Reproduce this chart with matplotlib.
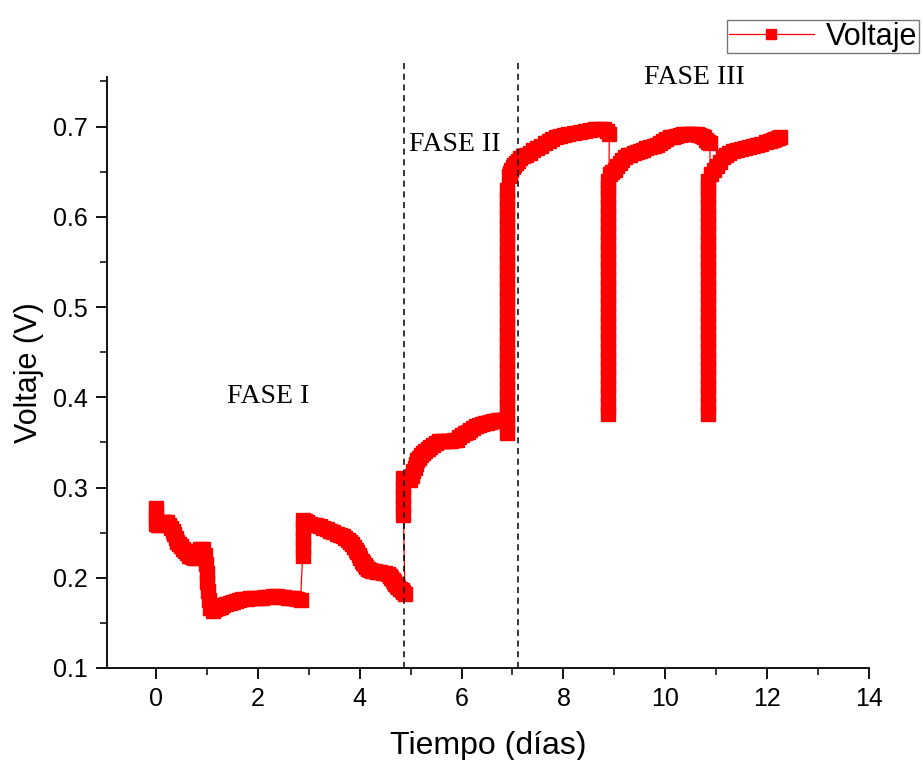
import matplotlib
matplotlib.use("Agg")
import matplotlib.pyplot as plt
from matplotlib.ticker import MultipleLocator

plt.rcParams["font.family"] = ["Liberation Sans", "DejaVu Sans"]

# Phase I readings
dias_1 = [0.00, 0.00, 0.00, 0.04, 0.08, 0.14, 0.18, 0.22, 0.26, 0.30, 0.33, 0.36, 0.39, 0.42,
          0.46, 0.50, 0.54, 0.58, 0.62, 0.66, 0.70, 0.74, 0.80, 0.86, 0.92, 0.96, 0.98, 1.00,
          1.01, 1.02, 1.04, 1.07, 1.12, 1.17, 1.22, 1.27, 1.32, 1.38, 1.45, 1.52, 1.58, 1.64,
          1.70, 1.78, 1.85, 1.92, 2.00, 2.08, 2.15, 2.22, 2.30, 2.38, 2.45, 2.52, 2.60, 2.66,
          2.72, 2.78, 2.84,
          2.88, 2.88, 2.88, 2.88, 2.88, 2.92, 2.96, 3.02, 3.08, 3.15, 3.22, 3.29, 3.36, 3.42,
          3.48, 3.55, 3.61, 3.67, 3.72, 3.77, 3.81, 3.85, 3.88, 3.92, 3.95, 3.98, 4.01, 4.04,
          4.06, 4.10, 4.13, 4.17, 4.20, 4.25, 4.30, 4.35, 4.40, 4.45, 4.50, 4.55, 4.59, 4.62,
          4.65, 4.68, 4.70, 4.73, 4.76, 4.80, 4.83, 4.86, 4.89]
volt_1 = [0.277, 0.268, 0.260, 0.259, 0.258, 0.262, 0.262, 0.262, 0.259, 0.255, 0.252, 0.248,
          0.244, 0.240, 0.237, 0.235, 0.232, 0.230, 0.227, 0.224, 0.223, 0.222, 0.222, 0.232,
          0.232, 0.225, 0.215, 0.205, 0.195, 0.185, 0.175, 0.167, 0.163, 0.165, 0.167, 0.168,
          0.170, 0.171, 0.172, 0.173, 0.174, 0.175, 0.176, 0.176, 0.177, 0.177, 0.178, 0.178,
          0.179, 0.179, 0.180, 0.180, 0.179, 0.179, 0.178, 0.178, 0.177, 0.176, 0.175,
          0.224, 0.234, 0.244, 0.254, 0.264, 0.263, 0.262, 0.260, 0.259, 0.258, 0.257, 0.255,
          0.254, 0.252, 0.251, 0.249, 0.247, 0.246, 0.244, 0.242, 0.240, 0.237, 0.234, 0.231,
          0.228, 0.225, 0.222, 0.219, 0.216, 0.214, 0.212, 0.210, 0.209, 0.208, 0.207, 0.206,
          0.206, 0.205, 0.205, 0.204, 0.202, 0.200, 0.197, 0.195, 0.193, 0.191, 0.190, 0.188,
          0.186, 0.184, 0.182]

# Phase II readings
dias_2 = [4.86, 4.86, 4.86, 4.86, 4.86, 4.92, 4.98, 5.02, 5.05, 5.08, 5.10, 5.13, 5.16, 5.20,
          5.24, 5.29, 5.34, 5.39, 5.44, 5.50, 5.56, 5.62, 5.67, 5.74, 5.80, 5.86, 5.91, 5.96,
          6.01, 6.06, 6.12, 6.17, 6.22, 6.28, 6.34, 6.40, 6.46, 6.51, 6.56, 6.61, 6.66, 6.71,
          6.76, 6.81, 6.86,
          6.90, 6.90, 6.90, 6.90, 6.90, 6.90, 6.90, 6.90, 6.90, 6.90, 6.90, 6.90, 6.90, 6.90,
          6.90, 6.90, 6.90, 6.90, 6.90, 6.90, 6.90, 6.90, 6.90, 6.90, 6.90, 6.90, 6.90, 6.90,
          6.93, 6.96, 6.98, 7.01, 7.04, 7.07, 7.10, 7.15, 7.20, 7.27, 7.34, 7.41, 7.48, 7.56,
          7.64, 7.71, 7.78, 7.86, 7.93, 8.01, 8.10, 8.20, 8.33, 8.42, 8.52, 8.62, 8.72, 8.80,
          8.85, 8.90]
volt_2 = [0.270, 0.280, 0.290, 0.300, 0.310, 0.309, 0.308, 0.313, 0.318, 0.322, 0.326, 0.330,
          0.333, 0.336, 0.338, 0.341, 0.343, 0.345, 0.347, 0.349, 0.351, 0.352, 0.352, 0.352,
          0.352, 0.353, 0.353, 0.356, 0.358, 0.360, 0.362, 0.364, 0.366, 0.368, 0.369, 0.370,
          0.371, 0.372, 0.373, 0.374, 0.374, 0.375, 0.375, 0.375, 0.375,
          0.360, 0.370, 0.380, 0.390, 0.400, 0.410, 0.420, 0.430, 0.440, 0.450, 0.460, 0.470,
          0.480, 0.490, 0.500, 0.510, 0.520, 0.530, 0.540, 0.550, 0.560, 0.570, 0.580, 0.590,
          0.600, 0.610, 0.620, 0.630,
          0.645, 0.649, 0.652, 0.655, 0.658, 0.660, 0.662, 0.665, 0.667, 0.669, 0.671, 0.674,
          0.676, 0.679, 0.682, 0.684, 0.686, 0.688, 0.690, 0.691, 0.692, 0.693, 0.694, 0.695,
          0.696, 0.697, 0.697, 0.697, 0.695, 0.692]

# Phase III readings
dias_3 = [8.88] * 27 + [8.92, 8.96, 9.01, 9.06, 9.11, 9.16, 9.21, 9.26, 9.31, 9.38, 9.44,
                        9.50, 9.56, 9.63, 9.70, 9.77, 9.84, 9.90, 9.96, 10.02, 10.09, 10.15,
                        10.22, 10.28, 10.35, 10.42, 10.48, 10.55, 10.62, 10.67, 10.72, 10.76,
                        10.80, 10.84, 10.88] + \
         [10.84] * 27 + [10.90, 10.96, 11.02, 11.07, 11.13, 11.20, 11.26, 11.33, 11.41, 11.48,
                         11.56, 11.64, 11.72, 11.80, 11.88, 11.97, 12.06, 12.11, 12.16, 12.21,
                         12.25]
volt_3 = [0.382, 0.392, 0.402, 0.412, 0.422, 0.432, 0.442, 0.452, 0.462, 0.472, 0.482, 0.492,
          0.502, 0.512, 0.522, 0.532, 0.542, 0.552, 0.562, 0.572, 0.582, 0.592, 0.602, 0.612,
          0.622, 0.632, 0.640,
          0.648, 0.650, 0.652, 0.656, 0.660, 0.663, 0.666, 0.668, 0.669, 0.671, 0.672, 0.673,
          0.674, 0.676, 0.677, 0.679, 0.680, 0.682, 0.684, 0.686, 0.688, 0.689, 0.690, 0.691,
          0.692, 0.692, 0.692, 0.692, 0.692, 0.691, 0.690, 0.688, 0.685, 0.683, 0.682,
          0.382, 0.392, 0.402, 0.412, 0.422, 0.432, 0.442, 0.452, 0.462, 0.472, 0.482, 0.492,
          0.502, 0.512, 0.522, 0.532, 0.542, 0.552, 0.562, 0.572, 0.582, 0.592, 0.602, 0.612,
          0.622, 0.632, 0.640,
          0.648, 0.652, 0.656, 0.661, 0.666, 0.669, 0.671, 0.673, 0.674, 0.675, 0.676, 0.677,
          0.678, 0.680, 0.681, 0.683, 0.684, 0.685, 0.686, 0.687, 0.688]

dias = dias_1 + dias_2 + dias_3
voltaje = volt_1 + volt_2 + volt_3

fase_lims = [4.88, 7.10]
fase_labels = ["FASE I", "FASE II", "FASE III"]
fase_pos = [(2.2, 0.401), (5.87, 0.680), (10.58, 0.754)]

fig = plt.figure(figsize=(9.23, 7.6), dpi=100)
ax = fig.add_axes([0.1159, 0.1211, 0.8256, 0.7776])

ax.plot(dias, voltaje, "-s", color="red", lw=0.9, ms=10.5, mec="red", mfc="red",
        label="Voltaje", zorder=2)

ax.vlines(fase_lims, 0.1, 0.774, colors="black", linestyles=(0, (4, 3)), lw=1.1,
          clip_on=False, zorder=3)

for lab, (x, y) in zip(fase_labels, fase_pos):
    ax.text(x, y, lab, family="Liberation Serif", fontsize=20, ha="center", va="center")

ax.set_xlim(-0.96, 14)
ax.set_ylim(0.1, 0.755)
ax.xaxis.set_major_locator(MultipleLocator(2))
ax.xaxis.set_minor_locator(MultipleLocator(1))
ax.yaxis.set_minor_locator(MultipleLocator(0.05))
ax.set_yticks([0.1, 0.2, 0.3, 0.4, 0.5, 0.6, 0.7])
ax.tick_params(which="major", direction="out", length=8, width=1.3, labelsize=18, pad=6)
ax.tick_params(which="minor", direction="out", length=5, width=1.1)
ax.spines["top"].set_visible(False)
ax.spines["right"].set_visible(False)
ax.spines["left"].set_linewidth(1.3)
ax.spines["bottom"].set_linewidth(1.3)

ax.set_xlabel("Tiempo (días)", fontsize=23, labelpad=14)
ax.set_ylabel("Voltaje (V)", fontsize=22, labelpad=6)

leg = fig.legend(loc="upper left", bbox_to_anchor=(727 / 923, 1 - 20 / 760), fontsize=22,
                 fancybox=False, edgecolor="#555555", handlelength=2.8, markerscale=0.7,
                 borderpad=0.05, handletextpad=0.4, borderaxespad=0)
leg.get_frame().set_linewidth(1.0)

fig.savefig("out.png", dpi=100)
